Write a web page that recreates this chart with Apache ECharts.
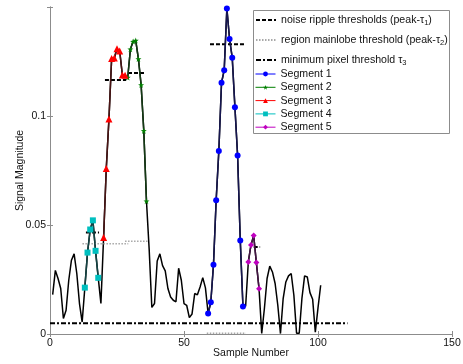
<!DOCTYPE html>
<html>
<head>
<meta charset="utf-8">
<title>Signal segments</title>
<script src="https://cdn.jsdelivr.net/npm/echarts@6/dist/echarts.min.js"></script>
<style>
  html, body { margin: 0; padding: 0; background: #fff; }
  #chart { width: 463px; height: 364px; }
</style>
</head>
<body>
<div id="chart"></div>
<script>
// Signal magnitude at samples 1..101
const signal = [
  0.0181, 0.0292, 0.0255, 0.0209, 0.0071, 0.0109, 0.0247, 0.0339, 0.0368, 0.0278,
  0.0140, 0.0055, 0.0213, 0.0374, 0.0480, 0.0522, 0.0382, 0.0258, 0.0140, 0.0443,
  0.0760, 0.0988, 0.1266, 0.1268, 0.1310, 0.1300, 0.1190, 0.1188, 0.1178, 0.1308,
  0.1343, 0.1348, 0.1263, 0.1144, 0.0933, 0.0610, 0.0390, 0.0122, 0.0140, 0.0335,
  0.0368, 0.0314, 0.0290, 0.0209, 0.0170, 0.0155, 0.0148, 0.0302, 0.0247, 0.0140,
  0.0132, 0.0075, 0.0092, 0.0186, 0.0180, 0.0216, 0.0259, 0.0212, 0.0094, 0.0146,
  0.0318, 0.0614, 0.0841, 0.1154, 0.1212, 0.1495, 0.1355, 0.1269, 0.1042, 0.0820,
  0.0429, 0.0126, 0.0128, 0.0331, 0.0409, 0.0452, 0.0328, 0.0208, 0.0003, 0.0117,
  0.0255, 0.0312, 0.0285, 0.0232, 0.0132, 0.0002, 0.0163, 0.0239, 0.0267, 0.0278,
  0.0178, 0.0004, 0.0004, 0.0163, 0.0267, 0.0262, 0.0190, 0.0160, 0.0008, 0.0120,
  0.0224
];

// Segment sample ranges [first, last]
const segmentNames = ['Segment 1', 'Segment 2', 'Segment 3', 'Segment 4', 'Segment 5'];
const segmentRanges = [[59, 72], [29, 36], [20, 28], [13, 18], [74, 78]];

// Noise ripple thresholds: [x start, x end, level]
const noiseThresholds = [
  [20.5, 28.4, 0.1167],
  [29.1, 35.8, 0.1199],
  [59.7, 72.4, 0.1331],
  [13.4, 18.3, 0.0466],
  [76.0, 78.4, 0.0400]
];

// Region mainlobe thresholds: [x start, x end, level]
const mainlobeThresholds = [
  [12.1, 29.2, 0.0414],
  [28.0, 36.4, 0.0426],
  [58.5, 73.1, 0.0003]
];

// Minimum pixel threshold: [x start, x end, level]
const minPixelThreshold = [0, 111, 0.0049];

const xTicks = [0, 50, 100, 150];
const yTicks = [0, 0.05, 0.1];
const yMax = 0.1502;

const segColors = ['#0000ff', '#008000', '#ff0000', '#00bfbf', '#bf00bf'];
const segLineColors = ['#161650', '#143a14', '#4a1414', '#144444', '#441444'];
const starPath = 'path://M0 -10 L2.35 -3.24 L9.51 -3.09 L3.80 1.24 L5.88 8.09 L0 4 L-5.88 8.09 L-3.80 1.24 L-9.51 -3.09 L-2.35 -3.24 Z';
const segSymbols = ['circle', starPath, 'triangle', 'rect', 'diamond'];
const segSymbolSizes = [6, 6, 7, 6, 6];

const font = 'Liberation Sans, Arial, sans-serif';

const chart = echarts.init(document.getElementById('chart'), null, { renderer: 'canvas' });

const series = [];

// Full signal trace
series.push({
  type: 'line',
  name: 'signal',
  xAxisIndex: 0, yAxisIndex: 0,
  data: signal.map((v, i) => [i + 1, v]),
  symbol: 'none',
  lineStyle: { color: '#000', width: 1.5 },
  z: 2,
  silent: true
});

function thresholdSeries(name, seg, style) {
  return {
    type: 'line',
    name: name,
    data: [[seg[0], seg[2]], [seg[1], seg[2]]],
    symbol: 'none',
    itemStyle: { color: style.color },
    lineStyle: style,
    z: 3,
    silent: true
  };
}

const noiseStyle = { color: '#000', width: 2, type: [4, 2] };
const mainlobeStyle = { color: '#a8a8a8', width: 1.5, type: [1.5, 1.5] };
const minStyle = { color: '#000', width: 2, type: [5, 2, 2, 2] };

noiseThresholds.forEach(t => series.push(thresholdSeries('noise ripple thresholds', t, noiseStyle)));
mainlobeThresholds.forEach(t => series.push(thresholdSeries('region mainlobe threshold', t, mainlobeStyle)));
series.push(thresholdSeries('minimum pixel threshold', minPixelThreshold, minStyle));

segmentRanges.forEach((r, k) => {
  const pts = [];
  for (let n = r[0]; n <= r[1]; n++) pts.push([n, signal[n - 1]]);
  series.push({
    type: 'line',
    name: segmentNames[k],
    data: pts,
    symbol: segSymbols[k],
    symbolSize: segSymbolSizes[k],
    showAllSymbol: true,
    itemStyle: { color: segColors[k], borderWidth: 0 },
    lineStyle: { color: segLineColors[k], width: 1.5 },
    z: 4,
    silent: true
  });
});

const subRich = {
  sub: { fontSize: 7.5, fontFamily: font, color: '#111', padding: [6, 0, 0, 0] }
};

const axisColor = '#8c8c8c';
const thresholdNames = ['noise ripple thresholds', 'region mainlobe threshold', 'minimum pixel threshold'];

chart.setOption({
  animation: false,
  backgroundColor: '#fff',
  textStyle: { fontFamily: font },
  grid: { left: 50, right: 11, top: 7, bottom: 30, containLabel: false, outerBoundsMode: 'none' },
  graphic: [{
    type: 'rect',
    z: 3,
    shape: { x: 253.5, y: 10.5, width: 196, height: 123 },
    style: { fill: '#fff', stroke: '#8c8c8c', lineWidth: 1 }
  }],
  legend: [{
    orient: 'vertical',
    left: 255, top: 14,
    padding: 0,
    itemWidth: 20, itemHeight: 8,
    itemGap: 7,
    z: 5,
    data: thresholdNames.map(n => ({ name: n, itemStyle: { opacity: 0 } })),
    formatter: function (name) {
      if (name === thresholdNames[0]) return 'noise ripple thresholds (peak-τ{sub|1})';
      if (name === thresholdNames[1]) return 'region mainlobe threshold (peak-τ{sub|2})';
      return 'minimum pixel threshold τ{sub|3}';
    },
    textStyle: { fontSize: 10.6, color: '#111', lineHeight: 12, fontFamily: font, rich: subRich }
  }, {
    orient: 'vertical',
    left: 255, top: 68,
    padding: 0,
    itemWidth: 20, itemHeight: 6,
    itemGap: 1.3,
    z: 5,
    data: segmentNames.map((n, k) => ({
      name: n,
      lineStyle: { color: segColors[k], width: 1 }
    })),
    textStyle: { fontSize: 10.6, color: '#111', lineHeight: 12, fontFamily: font }
  }],
  xAxis: [{
    type: 'value',
    position: 'bottom',
    min: xTicks[0], max: xTicks[xTicks.length - 1], interval: 50,
    name: 'Sample Number',
    nameLocation: 'middle',
    nameGap: 14,
    nameMoveOverlap: false,
    nameTextStyle: { fontSize: 10.5, color: '#111', fontFamily: font },
    axisLine: { show: true, lineStyle: { color: axisColor, width: 1 } },
    axisTick: { show: true, inside: true, length: 3, lineStyle: { color: axisColor } },
    axisLabel: { fontSize: 10.5, color: '#111', margin: 4, fontFamily: font },
    splitLine: { show: false }
  }, {
    type: 'value',
    position: 'top',
    min: xTicks[0], max: xTicks[xTicks.length - 1], interval: 50,
    axisLine: { show: true, lineStyle: { color: axisColor, width: 1 } },
    axisTick: { show: true, inside: true, length: 3, lineStyle: { color: axisColor } },
    axisLabel: { show: false },
    splitLine: { show: false }
  }],
  yAxis: [{
    type: 'value',
    position: 'left',
    min: yTicks[0], max: yMax, interval: 0.05,
    name: 'Signal Magnitude',
    nameLocation: 'middle',
    nameGap: 24,
    nameMoveOverlap: false,
    nameTextStyle: { fontSize: 10.5, color: '#111', fontFamily: font },
    axisLine: { show: true, lineStyle: { color: axisColor, width: 1 } },
    axisTick: { show: true, inside: true, length: 3, lineStyle: { color: axisColor } },
    axisLabel: {
      fontSize: 10.5, color: '#111', margin: 4, fontFamily: font, showMaxLabel: false,
      formatter: v => (yTicks.some(t => Math.abs(t - v) < 1e-9) ? String(+v.toFixed(3)) : '')
    },
    splitLine: { show: false }
  }, {
    type: 'value',
    position: 'right',
    min: yTicks[0], max: yMax, interval: 0.05,
    axisLine: { show: true, lineStyle: { color: axisColor, width: 1 } },
    axisTick: { show: true, inside: true, length: 3, lineStyle: { color: axisColor } },
    axisLabel: { show: false },
    splitLine: { show: false }
  }],
  series: series
});
</script>
</body>
</html>
